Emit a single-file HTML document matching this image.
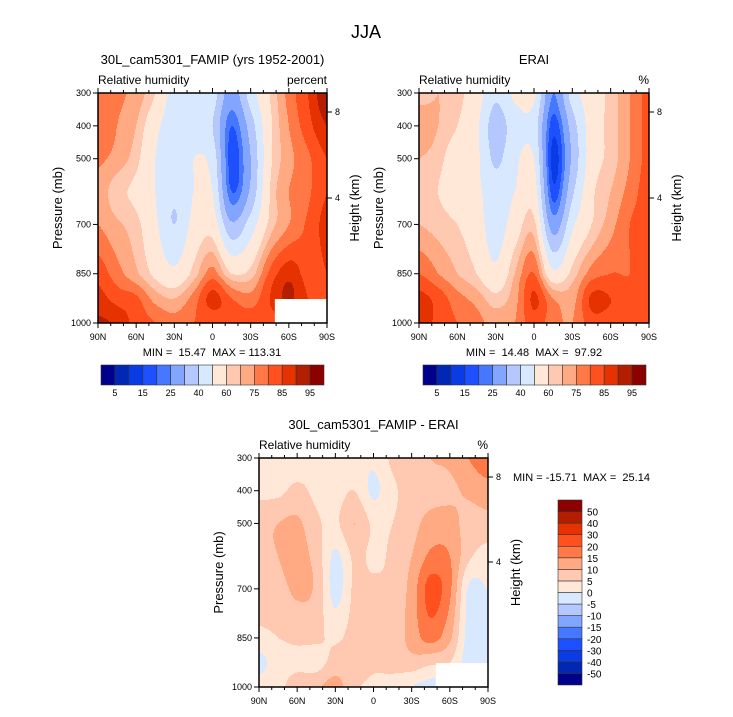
<!DOCTYPE html>
<html><head><meta charset="utf-8"><style>
body{margin:0;background:#fff;}
svg text{font-family:"Liberation Sans",sans-serif;fill:#000;white-space:pre;}
</style></head><body>
<svg id="fig" width="733" height="712" xmlns="http://www.w3.org/2000/svg">
<text x="366" y="38" font-size="18" text-anchor="middle">JJA</text>
</svg>
<script>
const lats=[90,75,60,45,30,15,0,-15,-30,-45,-60,-75,-90];
const pres=[300,400,500,600,700,850,925,1000];
// rows = pressure levels, cols = latitude
const rhModel=[
[81,81,78,70,56,60,55,35,55,70,82,90,100],
[84,80,75,63,54,58,50,25,45,68,80,88,95],
[81,78,72,60,54,60,56,22,40,68,78,84,90],
[78,72,68,60,52,60,60,25,42,70,80,84,90],
[80,76,72,62,50,63,66,42,55,72,80,86,92],
[88,82,76,68,62,72,82,70,72,86,93,88,90],
[92,88,86,78,75,82,92,85,82,90,96,90,90],
[96,94,88,85,82,85,86,88,88,88,90,90,90]];
const rhObs=[
[72,75,72,65,52,62,62,30,55,65,72,80,87],
[80,75,70,62,45,55,55,22,45,65,72,80,87],
[75,72,65,62,48,58,60,18,42,65,72,80,87],
[73,70,65,62,55,60,65,22,48,68,75,82,88],
[75,73,70,65,55,65,72,35,58,70,78,85,88],
[85,80,75,70,62,75,85,62,72,82,85,85,89],
[92,88,82,78,72,78,91,80,78,91,90,87,89],
[95,88,85,82,78,80,88,82,80,88,88,90,89]];
const rhDiff=[
[4,4,3,4,4,2,1,6,7,10,11,15,18],
[4,4,6,4,3,5,-1,4,7,8,9,11,13],
[8,10,11,6,4,10,4,5,8,12,12,8,8],
[8,10,12,8,-1,6,4,6,10,16,15,6,3],
[7,8,11,9,-2,6,6,6,12,22,16,-1,0],
[4,5,6,6,4,7,7,7,12,17,11,-2,-3],
[-2,3,4,3,7,8,6,6,8,6,5,-3,-3],
[3,4,7,9,12,6,4,4,0,-2,-2,-3,-3]];
const rhLevels=[10,15,20,25,30,40,50,60,70,75,80,85,90,95,100];
const rhLabels=["5","15","25","40","60","75","85","95"];
const diffLevels=[-50,-40,-30,-20,-15,-10,-5,0,5,10,15,20,30,40,50];
const latTicks=["90N","60N","30N","0","30S","60S","90S"];
const latTickVals=[90,60,30,0,-30,-60,-90];
const presTicks=[300,400,500,700,850,1000];
const colors=["#00008c","#0028b4","#0a3ce6","#1e50ff","#4678ff","#82a5ff","#b4c8ff","#d7e8ff","#ffe8d7","#ffc8b0","#ffaa82","#ff7846","#ff501e","#e63200","#b41e00","#8c0000"];
const NS="http://www.w3.org/2000/svg";
const svg=document.getElementById('fig');
function mk(tag,attrs,parent){const e=document.createElementNS(NS,tag);for(const k in attrs)e.setAttribute(k,attrs[k]);(parent||svg).appendChild(e);return e;}
function txt(x,y,s,size,anchor,parent,extra){const t=mk('text',Object.assign({x:x,y:y,'font-size':size,'text-anchor':anchor||'start'},extra||{}),parent);t.textContent=s;return t;}
function cr(p0,p1,p2,p3,t){return 0.5*((2*p1)+(-p0+p2)*t+(2*p0-5*p1+4*p2-p3)*t*t+(-p0+3*p1-3*p2+p3)*t*t*t);}
function interp(data,lat,p){
  let i=0;while(i<pres.length-2&&p>pres[i+1])i++;
  let j=0;while(j<lats.length-2&&lat<lats[j+1])j++;
  const fy=(p-pres[i])/(pres[i+1]-pres[i]);const fx=(lats[j]-lat)/(lats[j]-lats[j+1]);
  const R=r=>data[Math.max(0,Math.min(pres.length-1,r))];
  const C=(row,c)=>row[Math.max(0,Math.min(lats.length-1,c))];
  const rows=[i-1,i,i+1,i+2].map(r=>{const row=R(r);return cr(C(row,j-1),C(row,j),C(row,j+1),C(row,j+2),fx);});
  return cr(rows[0],rows[1],rows[2],rows[3],fy);
}
function band(v,levels){let k=0;while(k<levels.length&&v>=levels[k])k++;return k;}
function panel(opt){
  const g=mk('g',{});
  
  
  const X=lat=>opt.x+(90-lat)/180*opt.w;
  const Y=p=>opt.y+(p-300)/700*opt.h;
  const step=1;
  const field=mk('g',{'shape-rendering':'crispEdges'},g);
  
  
  const W=Math.ceil(opt.w);
  for(let py=0;py<opt.h;py+=step){
    const p=300+(py+step/2)/opt.h*700;
    let runStart=0,runK=-1;
    for(let px=0;px<=W;px+=step){
      let k=-2;
      if(px<W){const lat=90-(px+step/2)/opt.w*180;k=band(interp(opt.data,lat,p),opt.levels);}
      if(k!==runK){
        if(runK>=0){const r=mk('rect',{x:opt.x+runStart,y:opt.y+py,width:Math.min(px,opt.w)-runStart+0.5,height:step+0.5,fill:colors[runK]},field);
          
          }
        runStart=px;runK=k;
      }
    }
  }
  if(opt.mask){const m=mk('rect',{x:X(opt.mask[0]),y:Y(opt.mask[1]),width:X(-90)-X(opt.mask[0])+0.5,height:Y(1000)-Y(opt.mask[1]),fill:'#fff'},g);
    
    }
  mk('rect',{x:opt.x,y:opt.y,width:opt.w,height:opt.h,fill:'none',stroke:'#000','stroke-width':1.5},g);
  for(let lat=90;lat>=-90;lat-=10){
    const major=lat%30===0;const L=major?5:3;const x=X(lat);
    mk('line',{x1:x,x2:x,y1:opt.y+opt.h,y2:opt.y+opt.h+L,stroke:'#000','stroke-width':1},g);
    mk('line',{x1:x,x2:x,y1:opt.y,y2:opt.y-L,stroke:'#000','stroke-width':1},g);
  }
  latTickVals.forEach((v,i)=>{const t=txt(X(v),opt.y+opt.h+17,latTicks[i],9,'middle',g);
    });
  presTicks.forEach(p=>{mk('line',{x1:opt.x-5,x2:opt.x,y1:Y(p),y2:Y(p),stroke:'#000'},g);
    const t=txt(opt.x-7,Y(p)+3,String(p),9,'end',g);
    });
  [[8,opt.h8],[4,opt.h4]].forEach(([km,yy])=>{mk('line',{x1:opt.x+opt.w,x2:opt.x+opt.w+5,y1:yy,y2:yy,stroke:'#000'},g);
    const t=txt(opt.x+opt.w+8,yy+3,String(km),9,'start',g);
    });
  const yl=txt(0,0,'Pressure (mb)',13,'middle',g,{transform:`translate(${opt.x-36},${opt.y+opt.h/2}) rotate(-90)`});
  
  const hl=txt(0,0,'Height (km)',13,'middle',g,{transform:`translate(${opt.x+opt.w+32},${opt.y+opt.h/2}) rotate(-90)`});
  
  const lt=txt(opt.x,opt.y-9,'Relative humidity',12,'start',g);
  
  const ut=txt(opt.x+opt.w,opt.y-9,opt.units,12,'end',g);
  
  const tt=txt(opt.x+opt.w/2,opt.y-29,opt.title,13,'middle',g);
  
  if(opt.minmax){const mm=txt(opt.minmax[0],opt.minmax[1],opt.mmText,11,opt.minmax[2],g);
    }
}
function hbar(x,y,w,h,name){
  const g=mk('g',{});
  
  
  const bw=w/colors.length;
  colors.forEach((c,i)=>{const r=mk('rect',{x:x+i*bw,y:y,width:bw,height:h,fill:c,stroke:'#333','stroke-width':0.6},g);
    });
  rhLabels.forEach((s,i)=>{const t=txt(x+(2*i+1)*bw,y+h+11,s,9,'middle',g);
    });
}
function vbar(x,y,w,h,name){
  const g=mk('g',{});
  
  
  const bh=h/colors.length;
  colors.forEach((c,i)=>{const r=mk('rect',{x:x,y:y+h-(i+1)*bh,width:w,height:bh,fill:c,stroke:'#333','stroke-width':0.6},g);
    });
  diffLevels.forEach((v,i)=>{const t=txt(x+w+5,y+h-(i+1)*bh+4,String(v),10,'start',g);
    });
}
panel({name:'model-panel',x:98,y:93,w:229,h:230,data:rhModel,levels:rhLevels,units:'percent',title:'30L_cam5301_FAMIP (yrs 1952-2001)',h8:112,h4:198,mask:[-49,927],minmax:[212,356,'middle'],mmText:'MIN =  15.47  MAX = 113.31'});
panel({name:'erai-panel',x:419,y:93,w:230,h:230,data:rhObs,levels:rhLevels,units:'%',title:'ERAI',h8:112,h4:198,minmax:[534,356,'middle'],mmText:'MIN =  14.48  MAX =  97.92'});
panel({name:'difference-panel',x:259,y:458,w:229,h:229,data:rhDiff,levels:diffLevels,units:'%',title:'30L_cam5301_FAMIP - ERAI',h8:477,h4:562,mask:[-49,927],minmax:[513,481,'start'],mmText:'MIN = -15.71  MAX =  25.14'});
hbar(101,365,223,20,'model-colorbar');
hbar(423,365,223,20,'erai-colorbar');
vbar(558,500,24,185,'difference-colorbar');
</script>
</body></html>
